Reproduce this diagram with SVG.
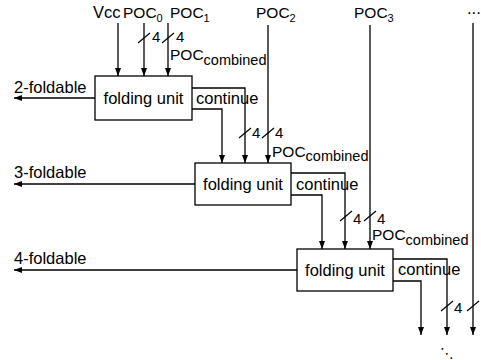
<svg xmlns="http://www.w3.org/2000/svg" width="481" height="360" viewBox="0 0 481 360">
<defs>
<marker id="ah" markerUnits="userSpaceOnUse" markerWidth="8" markerHeight="6" refX="8" refY="3" orient="auto">
<path d="M0,0 L8,3 L0,6 z" fill="#000"/>
</marker>
<style>
text{font-family:"Liberation Sans",Arial,sans-serif;fill:#000}
.t{font-size:16.5px}
.p{font-size:15.5px}
.s{font-size:11px}
.c{font-size:14.5px}
.n{font-size:15px}
.box{fill:#fff;stroke:#000;stroke-width:1.3}
.w{fill:none;stroke:#000;stroke-width:1.3}
.a{fill:none;stroke:#000;stroke-width:1.3;marker-end:url(#ah)}
.sl{stroke:#000;stroke-width:1.2}
</style>
</defs>
<rect width="481" height="360" fill="#fff"/>

<g id="connectors">
<line class="a" x1="118" y1="23" x2="118" y2="76"/>
<line class="a" x1="144" y1="23" x2="144" y2="76"/>
<line class="a" x1="168" y1="23" x2="168" y2="76"/>
<line class="a" x1="268" y1="25" x2="268" y2="163"/>
<line class="a" x1="370" y1="25" x2="370" y2="249"/>
<line class="a" x1="473" y1="23" x2="473" y2="335"/>
<polyline class="a" points="192,88 245,88 245,163"/>
<polyline class="a" points="192,109 222,109 222,163"/>
<line class="a" x1="95" y1="98" x2="14" y2="98"/>
<polyline class="a" points="291,173 345,173 345,249"/>
<polyline class="a" points="291,195 322,195 322,249"/>
<line class="a" x1="195" y1="184" x2="14" y2="184"/>
<polyline class="a" points="393,259 447,259 447,335"/>
<polyline class="a" points="393,281 421,281 421,335"/>
<line class="a" x1="297" y1="270" x2="14" y2="270"/>
<line class="sl" x1="138" y1="43" x2="150" y2="33"/>
<line class="sl" x1="162" y1="43" x2="174" y2="33"/>
<line class="sl" x1="239" y1="138" x2="251" y2="128"/>
<line class="sl" x1="262" y1="138" x2="274" y2="128"/>
<line class="sl" x1="340" y1="221" x2="352" y2="211"/>
<line class="sl" x1="364" y1="221" x2="376" y2="211"/>
<line class="sl" x1="441" y1="311" x2="453" y2="301"/>
<line class="sl" x1="467" y1="311" x2="479" y2="301"/>
</g>

<g id="unit1">
<rect class="box" x="95" y="76" width="97" height="44"/>
<text class="t" x="143.5" y="103.5" text-anchor="middle">folding unit</text>
</g>
<g id="unit2">
<rect class="box" x="195" y="163" width="96" height="42"/>
<text class="t" x="243" y="189.5" text-anchor="middle">folding unit</text>
</g>
<g id="unit3">
<rect class="box" x="297" y="249" width="96" height="42"/>
<text class="t" x="345" y="275.5" text-anchor="middle">folding unit</text>
</g>

<g id="labels">
<text class="t" x="93" y="18">Vcc</text>
<text class="p" x="123" y="18">POC<tspan class="s" dy="4">0</tspan></text>
<text class="p" x="170" y="18">POC<tspan class="s" dy="4">1</tspan></text>
<text class="p" x="256" y="18">POC<tspan class="s" dy="4">2</tspan></text>
<text class="p" x="354" y="18">POC<tspan class="s" dy="4">3</tspan></text>
<text class="t" x="467" y="14">...</text>

<text class="n" x="152" y="42">4</text>
<text class="n" x="176" y="42">4</text>
<text class="p" x="170" y="60">POC<tspan class="c" dy="5">combined</tspan></text>

<text class="n" x="252" y="138">4</text>
<text class="n" x="275" y="138">4</text>
<text class="p" x="272" y="157">POC<tspan class="c" dy="4">combined</tspan></text>

<text class="n" x="353" y="224">4</text>
<text class="n" x="377" y="224">4</text>
<text class="p" x="372" y="240">POC<tspan class="c" dy="5">combined</tspan></text>

<text class="n" x="454" y="313">4</text>

<text class="t" x="196" y="104">continue</text>
<text class="t" x="296" y="190">continue</text>
<text class="t" x="398" y="275">continue</text>

<text class="t" x="14" y="93">2-foldable</text>
<text class="t" x="14" y="178">3-foldable</text>
<text class="t" x="14" y="264">4-foldable</text>

<text x="440" y="358" style="font-family:'DejaVu Sans',sans-serif;font-size:14px">⋱</text>
</g>
</svg>
